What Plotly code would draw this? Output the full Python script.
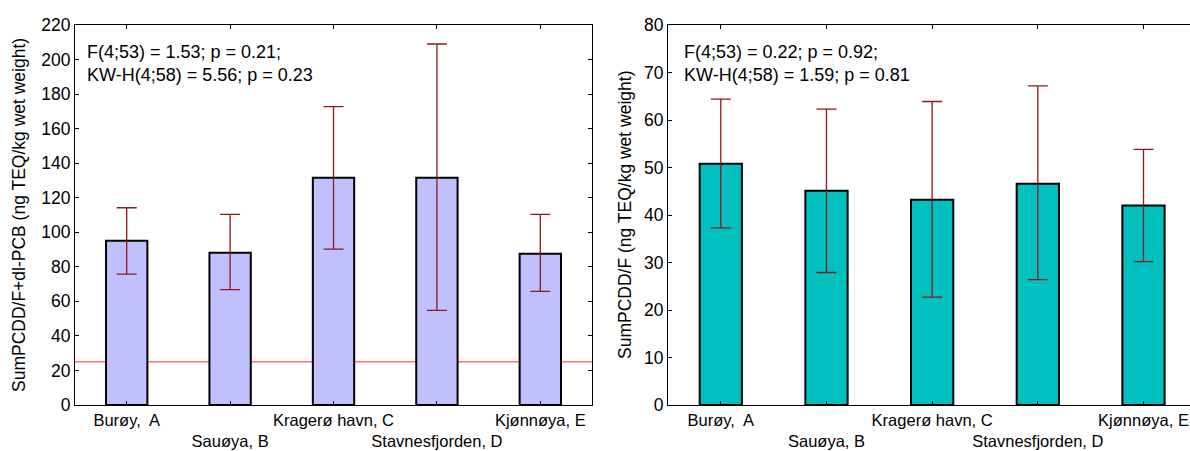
import plotly.graph_objects as go

categories = ["Burøy,\u00a0 A", "Sauøya, B", "Kragerø havn, C", "Stavnesfjorden, D", "Kjønnøya, E"]
xpos = [0, 1, 2, 3, 4]

# Left panel: SumPCDD/F + dl-PCB
left_mean = [95.1, 88.2, 131.6, 131.6, 87.6]
left_upper = [114.2, 110.4, 172.7, 209.0, 110.4]
left_lower = [75.8, 66.8, 90.3, 54.8, 65.8]
left_limit = 25

# Right panel: SumPCDD/F
right_mean = [50.8, 45.1, 43.2, 46.6, 42.0]
right_upper = [64.4, 62.3, 63.9, 67.2, 53.8]
right_lower = [37.3, 27.9, 22.7, 26.4, 30.2]

left_title = "SumPCDD/F+dl-PCB (ng TEQ/kg wet weight)"
right_title = "SumPCDD/F (ng TEQ/kg wet weight)"
left_text = "F(4;53) = 1.53; p = 0.21;<br>KW-H(4;58) = 5.56; p = 0.23"
right_text = "F(4;53) = 0.22; p = 0.92;<br>KW-H(4;58) = 1.59; p = 0.81"

tick_text = [c if i % 2 == 0 else "<br>" + c for i, c in enumerate(categories)]

FONT = "Liberation Sans, Arial, sans-serif"
ERR = "#8B1A1A"

fig = go.Figure()

fig.add_trace(go.Bar(
    x=xpos, y=left_mean, width=0.4,
    marker=dict(color="#C0C0FF", line=dict(color="black", width=2)),
    error_y=dict(type="data", symmetric=False,
                 array=[u - m for u, m in zip(left_upper, left_mean)],
                 arrayminus=[m - l for m, l in zip(left_mean, left_lower)],
                 color=ERR, thickness=1.3, width=10),
    xaxis="x", yaxis="y", showlegend=False))

fig.add_trace(go.Bar(
    x=xpos, y=right_mean, width=0.4,
    marker=dict(color="#00C0C0", line=dict(color="black", width=2)),
    error_y=dict(type="data", symmetric=False,
                 array=[u - m for u, m in zip(right_upper, right_mean)],
                 arrayminus=[m - l for m, l in zip(right_mean, right_lower)],
                 color=ERR, thickness=1.3, width=10),
    xaxis="x2", yaxis="y2", showlegend=False))

fig.add_shape(type="line", xref="x domain", yref="y", x0=0, x1=1,
              y0=left_limit, y1=left_limit, line=dict(color="#FF7070", width=1.5),
              layer="below")

axis_common = dict(showline=True, linecolor="black", linewidth=1, ticks="inside",
                   ticklen=4, tickcolor="black", showgrid=False, zeroline=False,
                   automargin=False, ticklabeloverflow="allow")
yfont = dict(family=FONT, size=17.5, color="black")
xfont = dict(family=FONT, size=16.5, color="black")

fig.update_layout(
    width=1190, height=451,
    margin=dict(l=75, r=0, t=25, b=46),
    paper_bgcolor="white", plot_bgcolor="white",
    font=dict(family=FONT, size=17, color="black"),
    xaxis=dict(domain=[0, 0.4637], range=[-0.5, 4.5], tickvals=xpos, ticktext=tick_text,
               tickangle=0, mirror="ticks", anchor="y", tickfont=xfont, **axis_common),
    yaxis=dict(range=[0, 220], dtick=20, mirror="ticks", anchor="x", tickfont=yfont,
               **axis_common),
    xaxis2=dict(domain=[0.5318, 1], range=[-0.5, 4.44], tickvals=xpos, ticktext=tick_text,
                tickangle=0, mirror="ticks", anchor="y2", tickfont=xfont, **axis_common),
    yaxis2=dict(range=[0, 80], dtick=10, anchor="x2", tickfont=yfont, **axis_common),
)

# axis titles
fig.add_annotation(xref="paper", yref="paper", x=-0.0502, y=0.5, textangle=-90,
                   xanchor="center", yanchor="middle", showarrow=False, text=left_title,
                   font=dict(family=FONT, size=17.5, color="black"))
fig.add_annotation(xref="paper", yref="paper", x=0.4933, y=0.5, textangle=-90,
                   xanchor="center", yanchor="middle", showarrow=False, text=right_title,
                   font=dict(family=FONT, size=17.5, color="black"))

fig.add_annotation(xref="x domain", yref="y domain", x=0.02, y=0.96, xanchor="left",
                   yanchor="top", align="left", showarrow=False, text=left_text,
                   font=dict(family=FONT, size=18, color="black"))
fig.add_annotation(xref="x2 domain", yref="y2 domain", x=0.026, y=0.96, xanchor="left",
                   yanchor="top", align="left", showarrow=False, text=right_text,
                   font=dict(family=FONT, size=18, color="black"))

fig.write_html("out.html")
